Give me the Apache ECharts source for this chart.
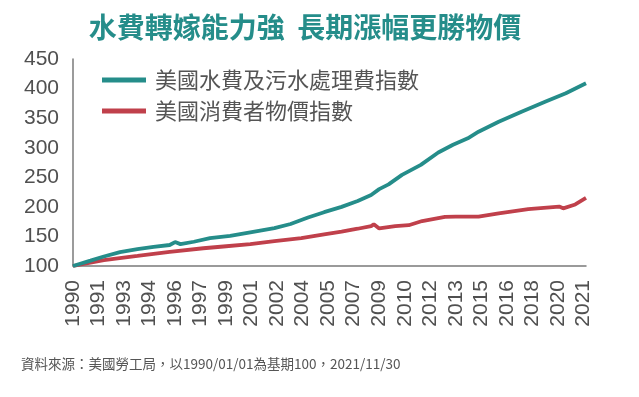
<!DOCTYPE html>
<html>
<head>
<meta charset="utf-8">
<script src="https://cdn.jsdelivr.net/npm/echarts@6/dist/echarts.min.js"></script>
<style>
  html, body { margin: 0; padding: 0; background: #fff; }
  #chart { width: 639px; height: 397px; }
</style>
</head>
<body>
<div id="chart"></div>
<script>
// monthly categories 1990-01 .. 2021-11
var months = []
for (var y = 1990; y <= 2021; y++) {
  for (var m = 1; m <= 12; m++) {
    if (y === 2021 && m > 11) break
    months.push(y + '-' + (m < 10 ? '0' + m : m))
  }
}

// 美國水費及污水處理費指數
var waterDates = ['1990-01', '1991-02', '1991-12', '1992-12', '1994-01', '1995-01', '1996-01', '1996-05', '1996-09',
  '1997-07', '1998-07', '1999-10', '2001-01', '2002-07', '2003-07', '2004-08', '2005-08', '2006-09', '2007-09',
  '2008-07', '2009-01', '2009-08', '2010-06', '2011-08', '2012-09', '2013-08', '2014-07', '2015-03', '2016-06',
  '2017-11', '2019-05', '2020-08', '2021-11']
var waterValues = [100, 109, 116, 123.5, 128.5, 132.5, 135.5, 140.5, 137,
  141, 147, 151, 157, 164, 171, 182, 191, 200, 210,
  220, 230, 238, 254, 271, 292, 305, 316, 327, 344,
  361, 378, 392, 409]

// 美國消費者物價指數
var cpiDates = ['1990-01', '1991-12', '1994-01', '1996-01', '1998-02', '1999-05', '2001-01', '2002-07', '2004-03',
  '2005-08', '2006-09', '2007-09', '2008-07', '2008-09', '2009-01', '2010-01', '2010-11', '2011-09', '2013-02',
  '2013-10', '2015-03', '2016-06', '2018-04', '2020-03', '2020-06', '2021-03', '2021-11']
var cpiValues = [100, 110, 117, 124, 130, 133, 137, 142, 147,
  153.5, 158, 163, 167.5, 170.5, 163.5, 167.5, 169, 176, 183,
  183.5, 183.5, 189, 196, 200.5, 197.5, 204, 215]

var yTicks = { min: 100, max: 450, step: 50 }

function pairs(dates, values) {
  return dates.map(function (d, i) { return [d, values[i]] })
}

var chart = echarts.init(document.getElementById('chart'))
var option = {
  backgroundColor: '#fff',
  animation: false,
  title: {
    text: '水費轉嫁能力強  長期漲幅更勝物價',
    left: 300,
    textAlign: 'center',
    top: 8,
    textStyle: {
      color: '#258d8a',
      fontSize: 28,
      fontWeight: 'bold',
      fontFamily: 'Noto Sans CJK TC'
    }
  },
  legend: {
    orient: 'vertical',
    left: 97,
    top: 64,
    itemWidth: 44,
    itemHeight: 5,
    itemGap: 9,
    icon: 'rect',
    textStyle: {
      color: '#555',
      fontSize: 22,
      fontFamily: 'Noto Sans CJK TC',
      padding: [0, 0, 0, 4]
    },
    data: ['美國水費及污水處理費指數', '美國消費者物價指數']
  },
  grid: {
    left: 73,
    right: 53,
    top: 59,
    bottom: 131
  },
  xAxis: {
    type: 'category',
    boundaryGap: false,
    data: months,
    axisTick: { show: false },
    axisLine: {
      lineStyle: { color: '#7a7a7a', width: 1.5 }
    },
    axisLabel: {
      interval: 18,
      rotate: 90,
      margin: 14,
      color: '#505050',
      fontSize: 21,
      fontFamily: 'Liberation Sans',
      formatter: function (v) { return v.slice(0, 4) }
    }
  },
  yAxis: {
    type: 'value',
    min: yTicks.min,
    max: yTicks.max,
    interval: yTicks.step,
    splitLine: { show: false },
    axisTick: { show: false },
    axisLine: {
      show: true,
      lineStyle: { color: '#7a7a7a', width: 1.5 }
    },
    axisLabel: {
      margin: 14,
      color: '#505050',
      fontSize: 21,
      fontFamily: 'Liberation Sans'
    }
  },
  series: [
    {
      name: '美國水費及污水處理費指數',
      type: 'line',
      z: 3,
      showSymbol: false,
      color: '#258d8a',
      lineStyle: { width: 3.8, color: '#258d8a' },
      data: pairs(waterDates, waterValues)
    },
    {
      name: '美國消費者物價指數',
      type: 'line',
      z: 2,
      showSymbol: false,
      color: '#c0404b',
      lineStyle: { width: 3.8, color: '#c0404b' },
      data: pairs(cpiDates, cpiValues)
    }
  ],
  graphic: [
    {
      type: 'text',
      left: 21,
      top: 357,
      style: {
        text: '資料來源：美國勞工局，以1990/01/01為基期100，2021/11/30',
        fill: '#555',
        fontSize: 13.5,
        fontFamily: 'Noto Sans CJK TC'
      }
    }
  ]
}
chart.setOption(option)
</script>
</body>
</html>
